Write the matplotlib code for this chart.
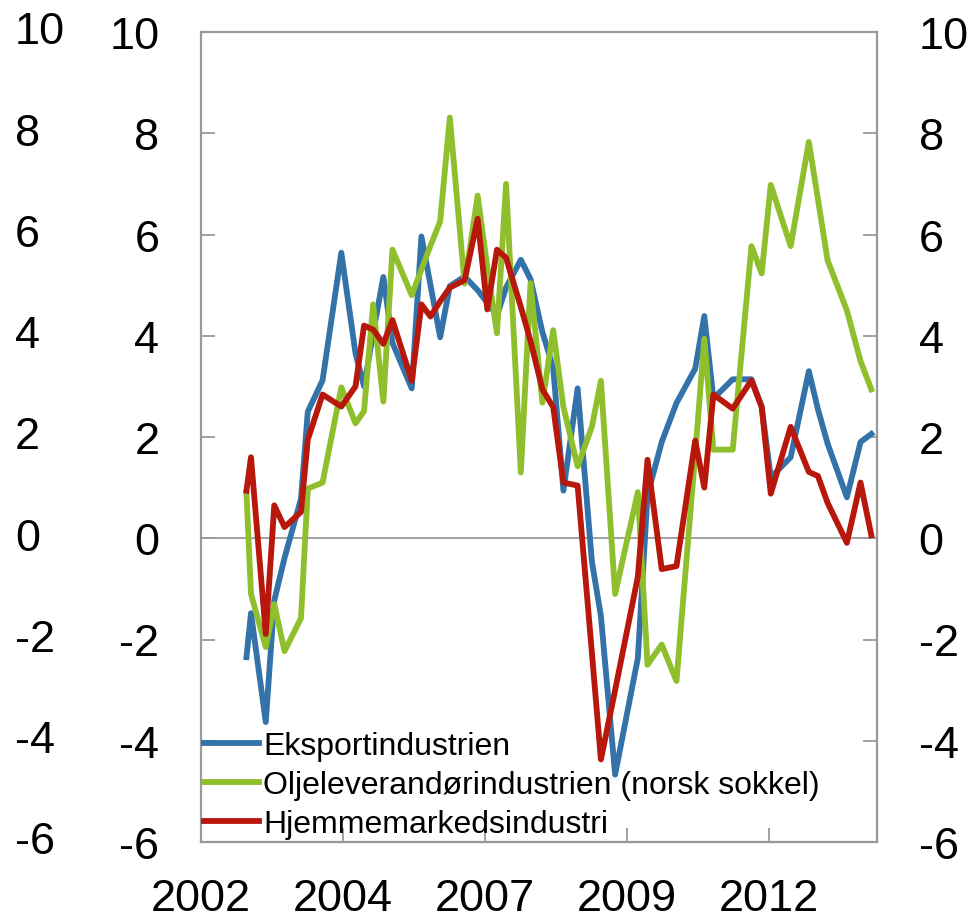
import numpy as np
import matplotlib
matplotlib.use("Agg")
import matplotlib.pyplot as plt
import matplotlib.transforms as mtransforms

plt.rcParams['font.family'] = ['Liberation Sans', 'DejaVu Sans']
plt.rcParams['axes.unicode_minus'] = False

# survey dates as decimal years (irregular spacing)
dates = [2002.80, 2002.88, 2003.14, 2003.29, 2003.47, 2003.76, 2003.88, 2004.14,
         2004.47, 2004.72, 2004.87, 2005.03, 2005.21, 2005.37, 2005.71, 2005.88,
         2006.04, 2006.21, 2006.38, 2006.64, 2006.87, 2007.04, 2007.21, 2007.37,
         2007.63, 2007.80, 2008.01, 2008.20, 2008.38, 2008.63, 2008.88, 2009.04,
         2009.29, 2009.69, 2009.86, 2010.11, 2010.37, 2010.70, 2010.86, 2011.02,
         2011.36, 2011.69, 2011.87, 2012.03, 2012.38, 2012.70, 2012.86, 2013.03,
         2013.37, 2013.61, 2013.80]

eksport = [-2.35, -1.48, -3.63, -1.23, -0.39, 0.78, 2.50, 3.12,
           5.64, 3.65, 3.00, 4.05, 5.16, 3.86, 2.96, 5.96,
           5.00, 3.97, 4.98, 5.17, 4.90, 4.65, 4.40, 4.95,
           5.50, 5.12, 4.07, 3.37, 0.94, 2.96, -0.45, -1.54,
           -4.67, -2.37, 0.85, 1.90, 2.67, 3.35, 4.39, 2.76,
           3.14, 3.14, 2.60, 1.20, 1.60, 3.30, 2.55, 1.87,
           0.81, 1.90, 2.06]

olje = [0.90, -1.10, -2.15, -1.30, -2.23, -1.58, 0.98, 1.10,
        2.98, 2.27, 2.51, 4.62, 2.70, 5.70, 4.80, 5.31,
        5.78, 6.26, 8.31, 5.03, 6.77, 5.35, 4.05, 7.00,
        1.30, 5.04, 2.68, 4.11, 2.59, 1.42, 2.20, 3.11,
        -1.10, 0.91, -2.50, -2.10, -2.82, 1.66, 3.94, 1.75,
        1.75, 5.77, 5.23, 6.98, 5.77, 7.83, 6.70, 5.49,
        4.50, 3.50, 2.94]

hjemme = [0.94, 1.60, -1.89, 0.65, 0.22, 0.52, 1.95, 2.84,
          2.60, 3.00, 4.20, 4.12, 3.84, 4.31, 3.11, 4.62,
          4.38, 4.68, 4.95, 5.10, 6.31, 4.52, 5.70, 5.54,
          4.57, 3.90, 2.94, 2.59, 1.10, 1.04, -2.25, -4.37,
          -3.00, -0.76, 1.55, -0.61, -0.55, 1.93, 1.00, 2.84,
          2.56, 3.12, 2.59, 0.88, 2.20, 1.31, 1.23, 0.70,
          -0.09, 1.10, 0.06]

labels = ["Eksportindustrien", "Oljeleverandørindustrien (norsk sokkel)",
          "Hjemmemarkedsindustri"]
colors = ["#3473a9", "#90bf2d", "#b8170b"]

xticks = [2002.0, 2004.5, 2007.0, 2009.5, 2012.0]
xticklabels = ["2002", "2004", "2007", "2009", "2012"]
yticks = [-6, -4, -2, 0, 2, 4, 6, 8, 10]

fig = plt.figure(figsize=(9.76, 9.2), dpi=100)
ax = fig.add_axes([201 / 976, 77 / 920, 676 / 976, 810 / 920])

for series, lab, col in zip([eksport, olje, hjemme], labels, colors):
    ax.plot(dates, series, color=col, lw=4.2, label=lab, solid_joinstyle='round')

ax.axhline(0, color='#999999', lw=1.3, zorder=0)

ax.set_xlim(2002.0, 2013.9)
ax.set_ylim(-6, 10)
ax.set_xticks(xticks)
ax.set_xticklabels(xticklabels)
ax.set_yticks(yticks)

for sp in ax.spines.values():
    sp.set_color('#999999')
    sp.set_linewidth(1.6)

ax.tick_params(axis='y', direction='in', length=10, width=1.3, color='#999999',
               left=True, right=True, labelleft=True, labelright=True,
               labelsize=32.5, pad=30)
ax.tick_params(axis='x', direction='in', length=10, width=1.3, color='#999999',
               labelsize=32.5, pad=26)

# second column of y labels at the far left
trans = mtransforms.blended_transform_factory(fig.transFigure, ax.transData)
for v in yticks:
    ax.text(15 / 976, v, str(v), transform=trans, ha='left', va='center',
            fontsize=32.5, clip_on=False)

ax.legend(loc='lower left', bbox_to_anchor=(0.0, 0.0), frameon=False,
          fontsize=23, handlelength=1.7, handletextpad=0.15, labelspacing=0.28,
          borderaxespad=0.1, borderpad=0.0)

fig.savefig("out.png", dpi=100)
